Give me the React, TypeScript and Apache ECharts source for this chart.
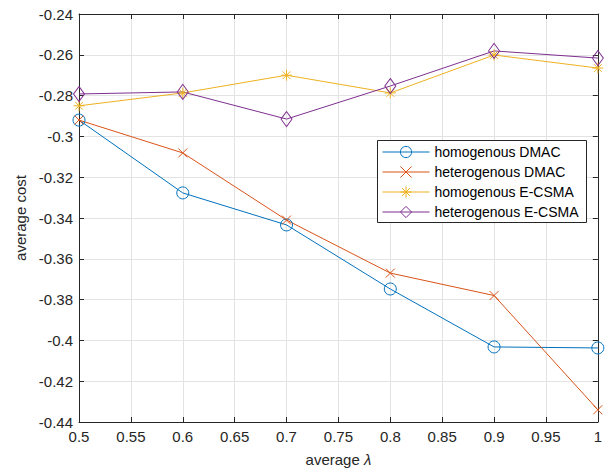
import React, { useEffect, useRef } from "react";
import * as echarts from "echarts";

const xValues = [0.5, 0.6, 0.7, 0.8, 0.9, 1.0];
const homDMAC = [-0.292, -0.3277, -0.3434, -0.3748, -0.4032, -0.4037];
const hetDMAC = [-0.292, -0.3081, -0.341, -0.367, -0.378, -0.434];
const homECSMA = [-0.285, -0.2787, -0.270, -0.2787, -0.2601, -0.2665];
const hetECSMA = [-0.2792, -0.2782, -0.2915, -0.2753, -0.2581, -0.2616];
const seriesNames = ["homogenous DMAC", "heterogenous DMAC", "homogenous E-CSMA", "heterogenous E-CSMA"];

const FONT = "Liberation Sans, Arial, Helvetica, sans-serif";
const AX = "#262626";

export default function App() {
  const ref = useRef<HTMLDivElement>(null);
  useEffect(() => {
    if (!ref.current) return;
    const chart = echarts.init(ref.current, undefined, { renderer: "svg" });
    const mk = (name: string, data: number[], color: string, symbol: string, size: any) => ({
      name,
      type: "line",
      data: xValues.map((x, i) => [x, data[i]]),
      symbol,
      symbolSize: size,
      showAllSymbol: true,
      color,
      lineStyle: { color, width: 1 },
      itemStyle: { color: "rgba(0,0,0,0)", borderColor: color, borderWidth: 1 },
      emphasis: { disabled: true },
      z: 3,
    });
    const axisCommon = {
      axisLine: { show: true, onZero: false, lineStyle: { color: AX, width: 1 } },
      axisTick: { show: true, inside: true, length: 5, lineStyle: { color: AX } },
    };
    chart.setOption({
      animation: false,
      backgroundColor: "#fff",
      grid: { left: 79, right: 5, top: 14, bottom: 52, containLabel: false },
      graphic: [
        {
          type: "rect",
          shape: { x: 377.5, y: 140.5, width: 209, height: 82 },
          style: { fill: "#fff", stroke: AX, lineWidth: 1 },
          z: 9,
          silent: true,
        },
      ],
      legend: {
        orient: "vertical",
        left: 382,
        top: 145,
        padding: 0,
        itemGap: 6,
        itemWidth: 47,
        itemHeight: 14,
        borderWidth: 0,
        lineStyle: { width: 1 },
        itemStyle: { borderWidth: 1 },
        textStyle: { fontFamily: FONT, fontSize: 14, color: "#000" },
        data: seriesNames,
        z: 10,
      },
      xAxis: [
        {
          type: "value",
          min: 0.5,
          max: 1,
          interval: 0.05,
          name: "average {i|λ}",
          nameLocation: "middle",
          nameGap: 30,
          nameTextStyle: {
            fontFamily: FONT,
            fontSize: 15,
            color: AX,
            rich: { i: { fontFamily: FONT, fontSize: 15, fontStyle: "italic", color: AX } },
          },
          ...axisCommon,
          axisLabel: { fontFamily: FONT, fontSize: 15, color: AX, margin: 7 },
          splitLine: { show: true, lineStyle: { color: "#e3e3e3", width: 1 } },
        },
        {
          type: "value",
          position: "top",
          min: 0.5,
          max: 1,
          interval: 0.05,
          ...axisCommon,
          axisLabel: { show: false },
          splitLine: { show: false },
        },
      ],
      yAxis: [
        {
          type: "value",
          min: -0.44,
          max: -0.24,
          interval: 0.02,
          name: "average cost",
          nameLocation: "middle",
          nameGap: 47,
          nameTextStyle: { fontFamily: FONT, fontSize: 15, color: AX },
          ...axisCommon,
          axisLabel: { fontFamily: FONT, fontSize: 15, color: AX, margin: 6 },
          splitLine: { show: true, lineStyle: { color: "#e3e3e3", width: 1 } },
        },
        {
          type: "value",
          position: "right",
          min: -0.44,
          max: -0.24,
          interval: 0.02,
          ...axisCommon,
          axisLabel: { show: false },
          splitLine: { show: false },
        },
      ],
      series: [
        mk(seriesNames[0], homDMAC, "#0072BD", "circle", 12),
        mk(seriesNames[1], hetDMAC, "#D95319", "path://M0,0L1,1M1,0L0,1", 9),
        mk(seriesNames[2], homECSMA, "#EDB120", "path://M0.5,0L0.5,1M0,0.5L1,0.5M0.15,0.15L0.85,0.85M0.85,0.15L0.15,0.85", 11),
        mk(seriesNames[3], hetECSMA, "#7E2F8E", "diamond", [11, 15]),
      ],
    });
    return () => chart.dispose();
  }, []);
  return <div ref={ref} style={{ position: "fixed", left: 0, top: 0, width: 605, height: 474 }} />;
}
